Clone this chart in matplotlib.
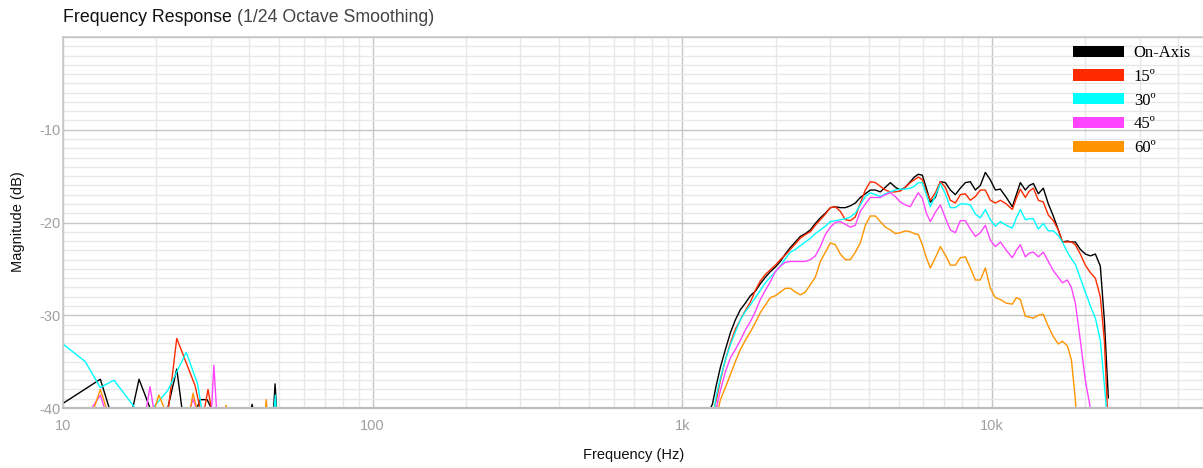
import numpy as np
import matplotlib
matplotlib.use("Agg")
import matplotlib.pyplot as plt
from matplotlib.patches import Patch
from matplotlib.ticker import FixedLocator, LogLocator, MultipleLocator, NullFormatter

plt.rcParams['font.family'] = ['Liberation Sans', 'DejaVu Sans']

# ---------------------------------------------------
# Series
# ---------------------------------------------------
series_names = ["On-Axis", "15º", "30º", "45º", "60º"]
series_colors = ["#000000", "#ff2a00", "#00ffff", "#ff44ff", "#ff9400"]

# Low frequency fragments (Hz, dB) - values below -40 fall outside the plot
lf_on_axis_f = [10.0, 13.2, 14.1, 15.5, 16.8, 17.6, 19.1, 20.5, 21.8, 23.3, 24.2, 25.5,
                27.1, 27.7, 29.2, 30.1, 35.0, 40.3, 40.8, 41.3, 45.0, 47.9, 48.4, 49.1]
lf_on_axis_db = [-39.5, -36.9, -40.0, -45, -40.0, -36.9, -40.0, -45, -40.0, -35.8, -40.0, -45,
                 -40.0, -39.1, -39.1, -40.0, -45, -40.5, -39.6, -40.5, -45, -40.0, -37.4, -41]

lf_15_f = [21.0, 21.9, 23.3, 26.7, 27.7, 28.3, 29.4, 30.1, 31.0]
lf_15_db = [-45, -40, -32.5, -37.6, -40, -41, -38.0, -40, -45]

lf_30_f = [10.0, 11.8, 13.2, 14.6, 17.1, 18.3, 19.5, 21.8, 25.0, 27.2, 28.0, 35.0, 48.1, 48.5, 49.0]
lf_30_db = [-33.1, -35.0, -37.8, -37.0, -40.0, -45, -40.0, -38.1, -34.0, -37.4, -40.0, -45, -40.0, -38.6, -41]

lf_45_f = [11.0, 12.4, 13.2, 13.6, 16.0, 18.6, 19.1, 19.6, 23.0, 25.8, 26.3, 26.9, 28.5,
           30.2, 30.7, 31.3, 33.0]
lf_45_db = [-45, -40, -38.6, -40, -45, -40, -37.7, -40, -45, -40, -39.0, -40, -45,
            -40, -35.4, -40, -45]

lf_60_f = [11.0, 12.6, 13.2, 13.8, 16.0, 19.8, 20.4, 21.2, 23.0, 25.8, 26.3, 27.0, 30.0,
           33.3, 33.6, 33.9, 40.0, 45.0, 45.3, 45.9]
lf_60_db = [-45, -40, -38.0, -40, -45, -40, -38.6, -40, -45, -40, -38.4, -40, -45,
            -40.5, -39.7, -40.5, -45, -40.5, -39.1, -41]

# Main band (Hz)
hf_freq = [1213, 1250, 1288, 1327, 1377, 1429, 1483, 1539, 1597, 1658, 1721, 1786, 1854, 1923,
           1997, 2072, 2150, 2232, 2317, 2404, 2495, 2590, 2688, 2790, 2896, 3006, 3119, 3237,
           3360, 3487, 3619, 3756, 3898, 4046, 4200, 4358, 4524, 4695, 4873, 5058, 5248, 5447,
           5612, 5781, 5956, 6137, 6322, 6561, 6810, 7067, 7334, 7612, 7899, 8200, 8510, 8834,
           9168, 9515, 9874, 10250, 10640, 11120, 11630, 11980, 12340, 12810, 13200, 13600,
           14110, 14640, 15200, 15770, 16370, 16870, 17510, 18040, 18580, 19280, 20010, 20770,
           21560, 22370, 23050, 23740, 24460]

nan = np.nan
hf_on_axis = [-40.5, -39.6, -37.5, -35.6, -33.7, -31.9, -30.5, -29.4, -28.7, -27.9, -27.4, -26.6,
              -25.9, -25.3, -24.8, -24.2, -23.4, -22.7, -22.1, -21.5, -21.2, -20.8, -20.1, -19.5,
              -19.0, -18.4, -18.3, -18.4, -18.4, -18.2, -17.9, -17.3, -16.9, -16.5, -16.5, -16.7,
              -16.2, -15.7, -16.2, -16.5, -16.2, -15.6, -15.1, -14.8, -14.9, -16.3, -17.8, -17.3,
              -15.6, -15.7, -16.5, -17.0, -16.3, -15.7, -15.6, -16.5, -16.0, -14.6, -15.4, -16.5,
              -16.4, -17.3, -18.3, -17.0, -15.7, -16.5, -16.0, -15.8, -16.9, -16.3, -18.0, -19.3,
              -20.8, -22.1, -22.0, -22.1, -22.1, -22.9, -23.4, -23.6, -23.4, -24.7, -30.5, -38.9, nan]
hf_15 = [-41.0, -40.8, -39.1, -37.0, -34.8, -33.0, -31.5, -30.5, -29.5, -28.6, -27.3, -26.3,
         -25.6, -25.1, -24.6, -24.0, -23.5, -22.9, -22.3, -21.7, -21.3, -21.0, -20.3, -19.7,
         -19.1, -18.4, -18.3, -18.8, -19.7, -19.8, -19.4, -17.9, -16.5, -15.6, -15.7, -16.1,
         -16.5, -16.7, -16.7, -16.6, -16.2, -15.7, -15.4, -15.1, -15.4, -16.7, -17.6, -16.8,
         -15.6, -16.2, -17.6, -17.9, -17.0, -16.9, -17.6, -17.2, -16.5, -16.5, -17.6, -17.9,
         -17.6, -18.0, -18.6, -17.4, -16.4, -17.3, -16.6, -16.3, -17.6, -17.8, -19.2, -19.8,
         -20.8, -22.1, -22.1, -22.1, -22.4, -23.4, -24.6, -25.4, -26.0, -28.0, -32.7, -42.4, nan]
hf_30 = [-42.0, -41.3, -38.6, -36.8, -34.8, -33.2, -31.8, -30.5, -29.6, -28.9, -28.1, -27.3,
         -26.5, -25.9, -25.3, -24.7, -23.9, -23.2, -22.9, -22.5, -22.1, -21.7, -21.2, -20.8,
         -20.4, -19.9, -19.8, -19.7, -19.6, -19.4, -19.0, -18.1, -17.2, -16.8, -17.0, -17.2,
         -16.9, -16.7, -16.5, -16.4, -16.4, -16.3, -16.1, -15.7, -15.7, -17.0, -18.3, -17.1,
         -15.8, -16.9, -18.4, -18.4, -18.0, -18.0, -18.1, -19.1, -19.5, -18.6, -19.7, -20.4,
         -19.9, -20.3, -20.6, -19.5, -18.6, -19.7, -19.6, -19.6, -20.7, -20.1, -20.9, -20.9,
         -21.4, -22.1, -23.2, -23.9, -24.5, -26.0, -27.5, -29.0, -30.3, -32.7, -37.5, -42.4, nan]
hf_45 = [-43.0, -42.0, -40.0, -38.1, -36.1, -34.6, -33.7, -32.7, -31.6, -30.7, -29.6, -28.3,
         -27.3, -26.4, -25.3, -24.7, -24.3, -24.2, -24.2, -24.2, -24.2, -24.0, -23.6, -22.6,
         -21.3, -20.5, -20.0, -19.9, -20.2, -20.5, -20.3, -18.8, -18.0, -17.3, -17.3, -17.3,
         -17.0, -16.8, -17.2, -17.8, -18.1, -18.3, -17.5, -16.8, -17.4, -19.0, -19.9, -18.9,
         -18.1, -19.5, -20.8, -21.1, -19.8, -19.8, -20.7, -21.5, -21.1, -20.3, -21.9, -22.6,
         -22.1, -23.0, -23.8, -23.0, -22.4, -23.7, -23.3, -23.2, -23.7, -23.2, -24.2, -25.2,
         -25.9, -26.5, -26.2, -27.0, -28.7, -32.7, -37.0, -40.0, -43.5, nan, nan, nan, nan]
hf_60 = [-45.0, -43.0, -41.0, -39.1, -37.8, -36.4, -35.0, -33.7, -32.7, -31.8, -30.8, -29.7,
         -28.9, -28.1, -27.9, -27.5, -27.1, -27.1, -27.5, -27.8, -27.5, -26.7, -25.9, -24.2,
         -23.2, -22.2, -22.4, -23.4, -24.0, -24.0, -23.2, -22.2, -20.3, -19.3, -19.3, -19.9,
         -20.5, -20.8, -21.2, -21.1, -20.9, -21.0, -21.2, -21.3, -22.4, -23.8, -24.9, -23.8,
         -22.6, -23.5, -24.6, -24.6, -23.8, -23.7, -24.9, -26.2, -26.2, -24.9, -27.1, -28.1,
         -28.3, -28.7, -28.8, -28.1, -28.3, -30.1, -30.2, -30.3, -30.0, -29.9, -31.2, -32.3,
         -33.1, -32.8, -33.3, -34.8, -39.1, -48.0, nan, nan, nan, nan, nan, nan, nan]

lf_data = [(lf_on_axis_f, lf_on_axis_db), (lf_15_f, lf_15_db), (lf_30_f, lf_30_db),
           (lf_45_f, lf_45_db), (lf_60_f, lf_60_db)]
hf_data = [hf_on_axis, hf_15, hf_30, hf_45, hf_60]

# ---------------------------------------------------
# Figure
# ---------------------------------------------------
W, H = 1203, 468
fig = plt.figure(figsize=(W / 100, H / 100), dpi=100)
ax = fig.add_axes([63 / W, 1 - 408 / H, 1 - 63 / W, (408 - 37) / H])

for (lf_f, lf_db), hf_db, col in zip(lf_data, hf_data, series_colors):
    ax.plot(lf_f, lf_db, color=col, lw=1.0)
    ax.plot(hf_freq, hf_db, color=col, lw=1.0)

ax.set_xscale("log")
ax.set_xlim(10, 48000)
ax.set_ylim(-40, 0)

ax.xaxis.set_major_locator(FixedLocator([10, 100, 1000, 10000]))
ax.set_xticklabels(["10", "100", "1k", "10k"])
ax.xaxis.set_minor_locator(LogLocator(base=10, subs=range(2, 10), numticks=20))
ax.xaxis.set_minor_formatter(NullFormatter())
ax.yaxis.set_major_locator(FixedLocator([-40, -30, -20, -10, 0]))
ax.set_yticklabels(["-40", "-30", "-20", "-10", ""])
ax.yaxis.set_minor_locator(MultipleLocator(1))

ax.grid(which="major", color="#c6c6c6", lw=1.0)
ax.grid(which="minor", color="#e8e8e8", lw=1.0)
ax.set_axisbelow(True)
ax.tick_params(which="both", length=0, labelcolor="#a0a0a0", labelsize=10.5)
ax.tick_params(axis="x", pad=8)
ax.tick_params(axis="y", pad=2)

for s in ["left", "top"]:
    ax.spines[s].set_color("#c8c8c8")
    ax.spines[s].set_linewidth(1.2)
ax.spines["bottom"].set_color("#bdbdbd")
ax.spines["bottom"].set_linewidth(1.6)
ax.spines["right"].set_visible(False)

# Legend
handles = [Patch(facecolor=c, edgecolor="none") for c in series_colors]
ax.legend(handles, series_names, loc="upper left",
          bbox_to_anchor=(1073 / W, 1 - 45 / H), bbox_transform=fig.transFigure,
          frameon=False, prop={"family": "Liberation Serif", "size": 12},
          handlelength=3.05, handleheight=0.66, handletextpad=0.6,
          labelspacing=0.47, borderpad=0, borderaxespad=0)

# Labels
fig.text(18 / W, 1 - 222 / H, "Magnitude (dB)", rotation=90, ha="center", va="center",
         fontsize=10.5, color="#111111")
fig.text(634 / W, 1 - 455 / H, "Frequency (Hz)", ha="center", va="center",
         fontsize=10.5, color="#111111")

# Title
t1 = fig.text(63 / W, 1 - 17 / H, "Frequency Response ", ha="left", va="center",
              fontsize=12.8, color="#111111")
fig.canvas.draw()
bb = t1.get_window_extent()
fig.text(bb.x1 / W, 1 - 17 / H, "(1/24 Octave Smoothing)", ha="left", va="center",
         fontsize=12.8, color="#444444")

fig.savefig("out.png", dpi=100)
